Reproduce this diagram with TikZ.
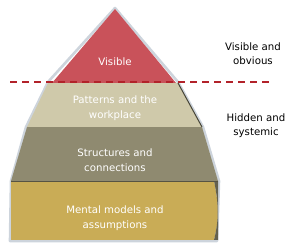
\documentclass[tikz,border=0pt]{standalone}
\usepackage{fontspec}
\setmainfont{DejaVu Sans}
\usepackage{xcolor}
\definecolor{red3}{RGB}{201,82,90}
\definecolor{tan3}{RGB}{207,201,170}
\definecolor{taupe3}{RGB}{143,138,112}
\definecolor{gold3}{RGB}{201,172,86}
\definecolor{rim3}{RGB}{205,212,220}
\definecolor{dash3}{RGB}{178,34,42}
\usetikzlibrary{positioning}

\begin{document}
\begin{tikzpicture}[x=1pt, y=-1pt,
    tiertext/.style={white, align=center, font=\fontsize{10.2}{14.5}\selectfont},
    sidetext/.style={black, align=center, font=\fontsize{10.2}{14}\selectfont}]
  \useasboundingbox (0,0) rectangle (290,248);

  % Light rim round the whole pyramid
  \draw[rim3, line width=2.6pt, line join=round]
    (115,8) -- (178,82) -- (203,127) -- (219,181) -- (217,241)
    -- (10,241) -- (11,181) -- (26,127) -- (48,82) -- cycle;

  % Tiers, bottom to top
  \fill[gold3] (11,181) -- (214,181) .. controls (219,205) and (219,220) .. (214,240)
    -- (11,240) -- cycle;
  \fill[taupe3!70!black] (214,181) -- (218,181) -- (218,240) -- (214,240)
    .. controls (219,220) and (219,205) .. cycle;
  \fill[taupe3] (27,127) -- (202,127) -- (218,181) -- (11,181) -- cycle;
  \draw[taupe3!60!black, line width=0.6pt] (11,181) -- (218,181);
  \fill[tan3] (48,83) -- (178,83) -- (202,127) -- (27,127) -- cycle;
  \draw[taupe3!50!black, line width=1pt] (178,83) -- (202,127);
  \fill[red3] (115,9) -- (176,83) -- (52,83) -- cycle;

  % Waterline
  \draw[dash3, line width=1.8pt, dash pattern=on 7pt off 5pt] (10,82) -- (272,82);

  % Tier texts
  \node[tiertext] (visible) at (115,62) {Visible};
  \node[tiertext] (patterns) at (115,108) {Patterns and the\\workplace};
  \node[tiertext] (structures) at (115,160) {Structures and\\connections};
  \node[tiertext] (mental) at (115,218) {Mental models and\\assumptions};

  % Side notes
  \node[sidetext] (obvious) at (253,54) {Visible and\\obvious};
  \node[sidetext] (hidden) at (256,126) {Hidden and\\systemic};
\end{tikzpicture}
\end{document}
